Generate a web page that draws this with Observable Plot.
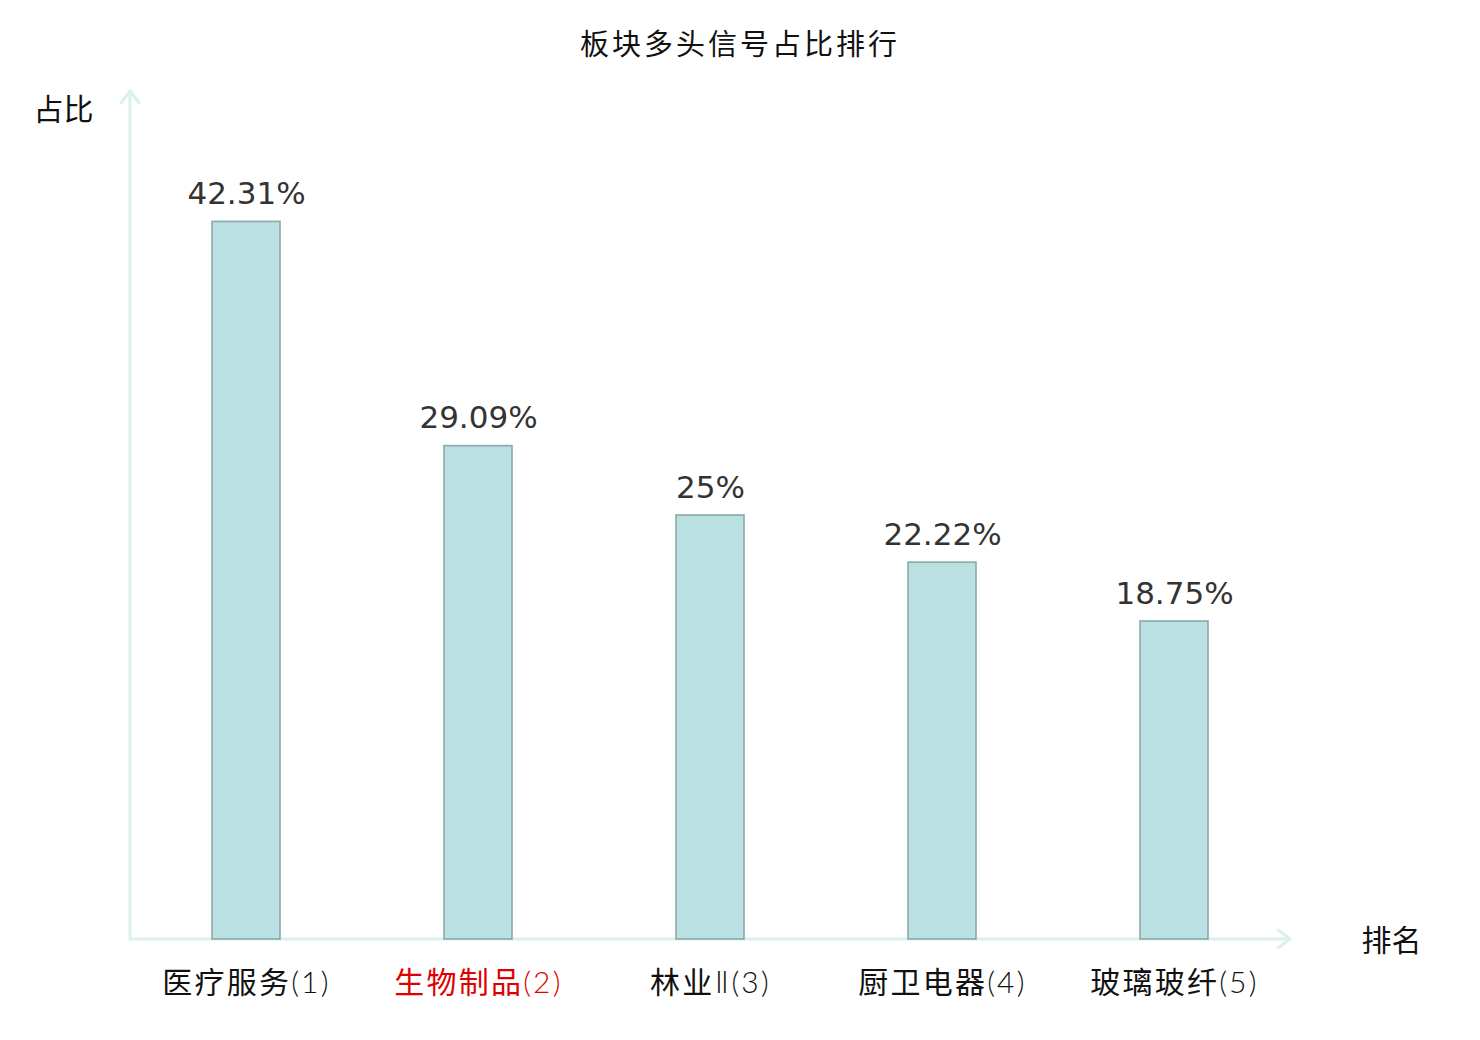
<!DOCTYPE html>
<html>
<head>
<meta charset="utf-8">
<script src="https://cdn.jsdelivr.net/npm/d3@7"></script>
<script src="https://cdn.jsdelivr.net/npm/@observablehq/plot@0.6"></script>
<style>
  body { margin: 0; background: #fff; }
  #title { height: 80px; line-height: 84px; text-align: center; font-family: "Noto Sans CJK SC", sans-serif; font-size: 29px; letter-spacing: 3px; color: #111; }
  #chart svg { display: block; }
</style>
</head>
<body>
<div id="title">板块多头信号占比排行</div>
<div id="chart"></div>
<script>
const sectors = ["医疗服务", "生物制品", "林业Ⅱ", "厨卫电器", "玻璃玻纤"];
const ranks = [1, 2, 3, 4, 5];
const values = [42.31, 29.09, 25, 22.22, 18.75];
const highlighted = "生物制品";
const yMax = 50;

const data = sectors.map((s, i) => ({
  sector: s,
  label: `${s}(${ranks[i]})`,
  value: values[i],
  text: `${values[i]}%`
}));

const axisColor = "#dcf1ee";
const cjk = "'Noto Sans CJK SC', sans-serif";

const plot = Plot.plot({
  width: 1480,
  height: 960,
  marginLeft: 130,
  marginRight: 190,
  marginTop: 11,
  marginBottom: 101,
  x: { domain: sectors, paddingInner: 0.707, paddingOuter: 0.3535, axis: null },
  y: { domain: [0, yMax], axis: null },
  marks: [
    Plot.barY(data, {
      x: "sector", y: "value",
      fill: "#bbe0e2", stroke: "#8aa9a9", strokeWidth: 1.6
    }),
    Plot.text(data, {
      x: "sector", y: "value", text: "text",
      lineAnchor: "bottom", dy: -18,
      fontSize: 31, fill: "#333", fontFamily: "DejaVu Sans, sans-serif"
    }),
    Plot.text(data, {
      x: "sector", text: "label",
      frameAnchor: "bottom", lineAnchor: "middle", dy: 44,
      fontSize: 30, fontFamily: cjk,
      fill: d => d.sector === highlighted ? "#e00000" : "#111"
    }),
    Plot.text(["占比"], {
      frameAnchor: "top-left", textAnchor: "middle", lineAnchor: "middle",
      dx: -67, dy: 19, fontSize: 30, fontFamily: cjk, fill: "#111"
    }),
    Plot.text(["排名"], {
      frameAnchor: "bottom-right", textAnchor: "middle", lineAnchor: "middle",
      dx: 101, dy: 2, fontSize: 30, fontFamily: cjk, fill: "#111"
    })
  ]
});

// light weight for the non-CJK part of category labels
const labelSet = new Set(data.map(d => d.label));
d3.select(plot).selectAll("text").each(function () {
  const t = d3.select(this);
  const s = t.text();
  if (!labelSet.has(s)) return;
  const m = s.match(/^([\u4e00-\u9fff]+)(.*)$/);
  if (!m) return;
  t.text(null).attr("letter-spacing", 2.2);
  t.append("tspan").text(m[1]);
  t.append("tspan").text(m[2])
    .attr("font-family", "Lato, 'DejaVu Sans', 'Noto Sans CJK SC', sans-serif")
    .attr("font-weight", 300);
});

// axis lines with arrowheads, positioned from the plot's scales
const xs = plot.scale("x"), ys = plot.scale("y");
const x0 = xs.range[0], x1 = xs.range[1];
const yb = ys.apply(0), yt = ys.apply(yMax);
const g = d3.select(plot).append("g")
  .attr("fill", "none").attr("stroke", axisColor).attr("stroke-width", 3)
  .attr("stroke-linecap", "round").attr("stroke-linejoin", "round");
g.append("path").attr("d", `M${x0},${yb}L${x0},${yt}`);
g.append("path").attr("d", `M${x0 - 9},${yt + 12}L${x0},${yt}L${x0 + 9},${yt + 12}`);
g.append("path").attr("d", `M${x0},${yb}L${x1},${yb}`);
g.append("path").attr("d", `M${x1 - 12},${yb - 9}L${x1},${yb}L${x1 - 12},${yb + 9}`);
g.lower();

document.getElementById("chart").appendChild(plot);
</script>
</body>
</html>
